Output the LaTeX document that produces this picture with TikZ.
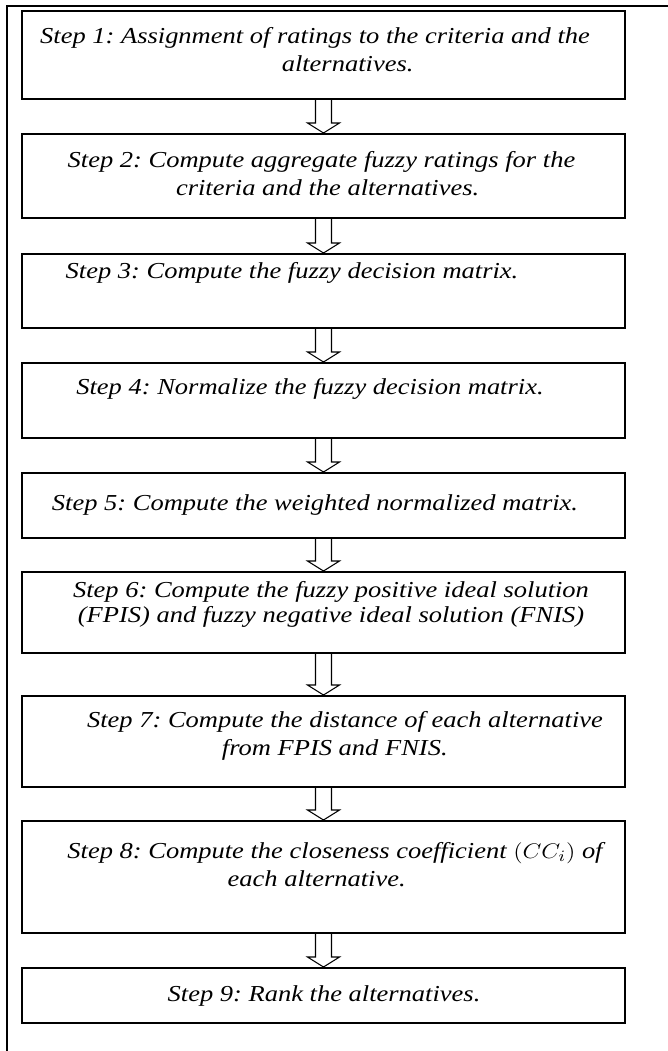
\documentclass[tikz,border=0pt]{standalone}
\usepackage{fontspec}
\setmainfont{Liberation Serif}
\usetikzlibrary{positioning,calc}
\frenchspacing

\tikzset{
  stepbox/.style={draw, line width=1.1pt, minimum width=12.06cm, inner sep=0pt, anchor=north},
  steptext/.style={align=center, inner sep=0pt, anchor=north, font=\itshape\fontsize{13}{15.8}\selectfont, xscale=1.16, transform shape},
  hollowarrow/.style={draw, line width=0.6pt, line join=miter},
}

\begin{document}
\begin{tikzpicture}[x=0.02cm, y=-0.02cm]
  \useasboundingbox (0,0) rectangle (668,1051);
  % outer frame
  \draw[line width=1.1pt] (7,1051) -- (7,6) -- (668,6);

  % step boxes
  \node[stepbox, minimum height=88*0.02cm] (s1) at (323.5,10) {};
  \node[stepbox, minimum height=84*0.02cm] (s2) at (323.5,133) {};
  \node[stepbox, minimum height=74*0.02cm] (s3) at (323.5,253) {};
  \node[stepbox, minimum height=75*0.02cm] (s4) at (323.5,362) {};
  \node[stepbox, minimum height=65*0.02cm] (s5) at (323.5,472) {};
  \node[stepbox, minimum height=81*0.02cm] (s6) at (323.5,571) {};
  \node[stepbox, minimum height=91*0.02cm] (s7) at (323.5,695) {};
  \node[stepbox, minimum height=112*0.02cm] (s8) at (323.5,820) {};
  \node[stepbox, minimum height=55*0.02cm] (s9) at (323.5,967) {};

  % texts
  \node[steptext] (t1) at (315,27) {Step 1: Assignment of ratings to the criteria and the\\ \hspace*{32pt}alternatives.};
  \node[steptext] (t2) at (321.5,151) {Step 2: Compute aggregate fuzzy ratings for the\\ \hspace*{6pt}criteria and the alternatives.};
  \node[steptext] (t3) at (292,262) {Step 3: Compute the fuzzy decision matrix.};
  \node[steptext] (t4) at (310,378) {Step 4: Normalize the fuzzy decision matrix.};
  \node[steptext] (t5) at (315,494) {Step 5: Compute the weighted normalized matrix.};
  \node[steptext, font=\itshape\fontsize{13}{14.3}\selectfont] (t6) at (331,581) {Step 6: Compute the fuzzy positive ideal solution\\ (FPIS) and fuzzy negative ideal solution (FNIS)};
  \node[steptext] (t7) at (345,711) {Step 7: Compute the distance of each alternative\\ from FPIS and FNIS.\hspace*{10pt}};
  \node[steptext] (t8) at (335,842) {Step 8: Compute the closeness coefficient $(CC_i)$ of\\ each alternative.\hspace*{18pt}};
  \node[steptext] (t9) at (324,985) {Step 9: Rank the alternatives.};

  % hollow arrows between steps
  \foreach \a/\b in {s1/s2, s2/s3, s3/s4, s4/s5, s5/s6, s6/s7, s7/s8, s8/s9}
    \draw[hollowarrow] ($(\a.south)+(-8,0)$) -- ($(\b.north)+(-8,-10)$) -- ($(\b.north)+(-16,-10)$)
      -- (\b.north) -- ($(\b.north)+(16,-10)$) -- ($(\b.north)+(8,-10)$) -- ($(\a.south)+(8,0)$);
\end{tikzpicture}
\end{document}
